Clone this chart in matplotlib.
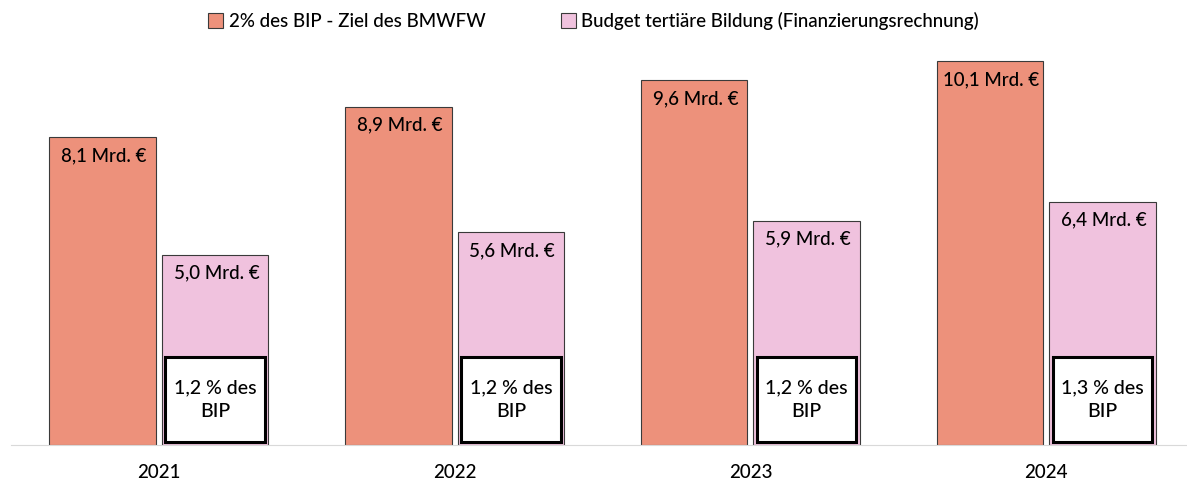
import matplotlib.pyplot as plt
from matplotlib.patches import Rectangle
import numpy as np

years = ['2021', '2022', '2023', '2024']
ziel = [8.1, 8.9, 9.6, 10.1]
budget = [5.0, 5.6, 5.9, 6.4]
bip_share = ['1,2', '1,2', '1,2', '1,3']

plt.rcParams['font.family'] = ['Lato', 'DejaVu Sans']

orange = '#ED917B'
pink = '#F0C2DE'
edge = '#3a3a3a'

fig = plt.figure(figsize=(11.87, 4.82), dpi=100)
ax = fig.add_axes([0.0093, 0.0768, 0.9966, 0.867])

x = np.arange(len(years))
w = 0.36
off = 0.19
b1 = ax.bar(x - off, ziel, w, color=orange, edgecolor=edge, linewidth=0.8,
            label='2% des BIP - Ziel des BMWFW')
b2 = ax.bar(x + off, budget, w, color=pink, edgecolor=edge, linewidth=0.8,
            label='Budget tertiäre Bildung (Finanzierungsrechnung)')

def fmt(v):
    return f'{v:.1f}'.replace('.', ',') + ' Mrd. €'

# value labels sit just inside the top of each bar
for xi, v in zip(x, ziel):
    ax.text(xi - off + 0.005, v - 0.48, fmt(v), ha='center', va='center', fontsize=13.5,
            fontweight='medium')
for xi, v, s in zip(x, budget, bip_share):
    ax.text(xi + off + 0.005, v - 0.48, fmt(v), ha='center', va='center', fontsize=13.5,
            fontweight='medium')
    ax.add_patch(Rectangle((xi + off - w / 2 + 0.012, 0.08), w - 0.024, 2.24,
                           facecolor='white', edgecolor='black', linewidth=2.2, zorder=3))
    ax.text(xi + off, 1.2, f'{s} % des\nBIP', ha='center', va='center',
            fontsize=14, linespacing=1.45, zorder=4, fontweight='medium')

ax.set_xlim(-0.5, 3.5)
ax.set_ylim(0, 11)
ax.set_xticks(x)
ax.set_xticklabels(years, fontsize=13.5, fontweight='medium')
ax.tick_params(axis='x', length=0, pad=14)
ax.set_yticks([])
for s in ['top', 'right', 'left']:
    ax.spines[s].set_visible(False)
ax.spines['bottom'].set_color('#d9d9d9')

fig.legend(handles=[b1, b2], loc='upper center', bbox_to_anchor=(0.5, 1.01), ncol=2,
           frameon=False, prop={'size': 13.5, 'weight': 'medium'}, handlelength=0.8,
           handleheight=0.8, handletextpad=0.3, columnspacing=4.0)

fig.savefig('out.png', dpi=100)
